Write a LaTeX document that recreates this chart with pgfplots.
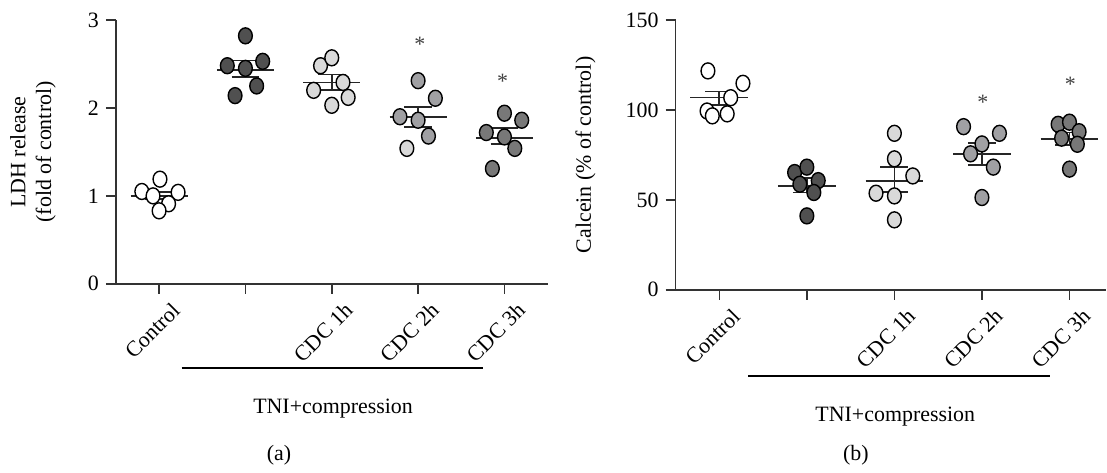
\documentclass[border=0pt]{standalone}
\usepackage{fontspec}
\setmainfont{Liberation Serif}
\usepackage{pgfplots}
\pgfplotsset{compat=1.18}
\definecolor{cTNI}{HTML}{505050}
\definecolor{cOne}{HTML}{D9D9D9}
\definecolor{cTwo}{HTML}{A0A0A3}
\definecolor{cThree}{HTML}{787878}
\pgfplotsset{
  panel/.style={
    scale only axis,
    axis lines=left,
    axis line style={-, line width=0.75bp, black!80},
    tick align=outside,
    major tick length=5bp,
    tick style={line width=0.75bp, black!80},
    xtick={0,1,2,3,4},
    xticklabels={Control,,CDC 1h,CDC 2h,CDC 3h},
    xticklabel style={rotate=45, anchor=north east, xshift=2.5bp, yshift=-5.5bp, inner sep=1bp},
    /pgf/number format/assume math mode=true,
    font=\fontsize{11}{13}\selectfont,
    ylabel style={align=center, anchor=center, rotate=0},
    clip=false,
  },
  dots/.style={only marks, mark=*, mark size=3.7bp,
    mark options={draw=black, line width=0.7bp, fill=#1, xscale=0.93, yscale=1.08}},
  eline/.style={black!85, line width=0.9bp, mark=none},
}
\newcommand{\seg}[4]{\addplot[eline] coordinates {(#1,#2) (#3,#4)};}
\begin{document}
\begin{tikzpicture}
\path (0,0) rectangle (553.5bp,233.5bp);
% ---------------- panel (a)
\begin{axis}[panel,
  at={(58bp,91.5bp)}, anchor=south west,
  width=216bp, height=132bp,
  xmin=-0.5, xmax=4.5, ymin=0, ymax=3,
  ytick={0,1,2,3},
  ylabel={LDH release\\(fold of control)},
  ylabel style={at={(axis description cs:-0.192,0.5)}},
]
\addplot[dots=white] coordinates {(-0.2,1.05) (0.01,1.19) (-0.07,1.0) (0.22,1.04) (0.11,0.91) (0,0.83)};
\addplot[dots=cTNI] coordinates {(1,2.82) (0.79,2.48) (1,2.45) (1.2,2.53) (1.13,2.25) (0.88,2.14)};
\addplot[dots=cOne] coordinates {(1.87,2.48) (2,2.57) (2.13,2.29) (1.79,2.20) (2.19,2.12) (2,2.03)};
\addplot[dots=cTwo] coordinates {(3,2.31) (3.2,2.11) (2.79,1.90) (3,1.86) (3.12,1.68)};
\addplot[dots=cOne] coordinates {(2.87,1.54)};
\addplot[dots=cThree] coordinates {(4,1.94) (4.2,1.86) (3.79,1.72) (4,1.67) (4.12,1.54) (3.86,1.31)};
% mean and SEM
\seg{-0.33}{1.00}{0.33}{1.00} \seg{-0.16}{1.045}{0.16}{1.045} \seg{-0.16}{0.96}{0.16}{0.96} \seg{0}{0.96}{0}{1.045}
\seg{0.67}{2.43}{1.33}{2.43} \seg{0.84}{2.54}{1.16}{2.54} \seg{0.84}{2.35}{1.16}{2.35} \seg{1}{2.35}{1}{2.54}
\seg{1.67}{2.29}{2.33}{2.29} \seg{1.84}{2.38}{2.16}{2.38} \seg{1.84}{2.20}{2.16}{2.20} \seg{2}{2.20}{2}{2.38}
\seg{2.67}{1.90}{3.33}{1.90} \seg{2.84}{2.01}{3.16}{2.01} \seg{2.84}{1.78}{3.16}{1.78} \seg{3}{1.78}{3}{2.01}
\seg{3.67}{1.66}{4.33}{1.66} \seg{3.84}{1.77}{4.16}{1.77} \seg{3.84}{1.59}{4.16}{1.59} \seg{4}{1.59}{4}{1.77}
\node[text=black!75] at (axis cs:3.02,2.72) {*};
\node[text=black!75] at (axis cs:3.98,2.30) {*};
\draw[line width=0.75bp] (axis cs:0.26,-0.955) -- (axis cs:3.75,-0.955);
\node at (axis cs:2.015,-1.42) {TNI+compression};
\node at (axis cs:1.39,-1.95) {(a)};
\end{axis}
% ---------------- panel (b)
\begin{axis}[panel,
  at={(338bp,88.5bp)}, anchor=south west,
  width=215.5bp, height=135bp,
  xmin=-0.5, xmax=4.42, ymin=0, ymax=150,
  ytick={0,50,100,150},
  ylabel={Calcein (\% of control)},
  ylabel style={at={(axis description cs:-0.209,0.5)}},
]
\addplot[dots=white] coordinates {(-0.13,121.7) (0.27,114.8) (0.13,106.8) (-0.14,99.4) (-0.08,96.7) (0.09,97.8)};
\addplot[dots=cTNI] coordinates {(0.86,65.2) (1,68.2) (1.13,60.7) (0.92,58.7) (1.08,54.1) (1,41.1)};
\addplot[dots=cOne] coordinates {(2,87) (2,72.8) (2.21,63.3) (1.79,53.7) (2,52.2) (2,38.9)};
\addplot[dots=cTwo] coordinates {(2.79,90.7) (3.2,87) (3,81.1) (2.87,75.6) (3.13,68.2) (3,51.3)};
\addplot[dots=cThree] coordinates {(3.87,92) (4,93.2) (4.11,87.9) (3.91,84.3) (4.09,80.9) (4,67.1)};
\seg{-0.33}{106.9}{0.33}{106.9} \seg{-0.16}{110.2}{0.16}{110.2} \seg{-0.16}{102.8}{0.16}{102.8} \seg{0}{102.8}{0}{110.2}
\seg{0.67}{57.9}{1.33}{57.9} \seg{0.84}{62}{1.16}{62} \seg{0.84}{54.1}{1.16}{54.1} \seg{1}{54.1}{1}{62}
\seg{1.67}{60.7}{2.33}{60.7} \seg{1.84}{68.1}{2.16}{68.1} \seg{1.84}{54.3}{2.16}{54.3} \seg{2}{54.3}{2}{68.1}
\seg{2.67}{75.6}{3.33}{75.6} \seg{2.84}{81.8}{3.16}{81.8} \seg{2.84}{69.6}{3.16}{69.6} \seg{3}{69.6}{3}{81.8}
\seg{3.67}{83.9}{4.33}{83.9} \seg{3.84}{87.5}{4.16}{87.5} \seg{3.84}{80.5}{4.16}{80.5} \seg{4}{80.5}{4}{87.5}
\node[text=black!75] at (axis cs:3.01,104) {*};
\node[text=black!75] at (axis cs:4.01,114) {*};
\draw[line width=0.75bp] (axis cs:0.33,-47.8) -- (axis cs:3.78,-47.8);
\node at (axis cs:2.01,-70.4) {TNI+compression};
\node at (axis cs:1.56,-92.2) {(b)};
\end{axis}
\end{tikzpicture}
\end{document}
